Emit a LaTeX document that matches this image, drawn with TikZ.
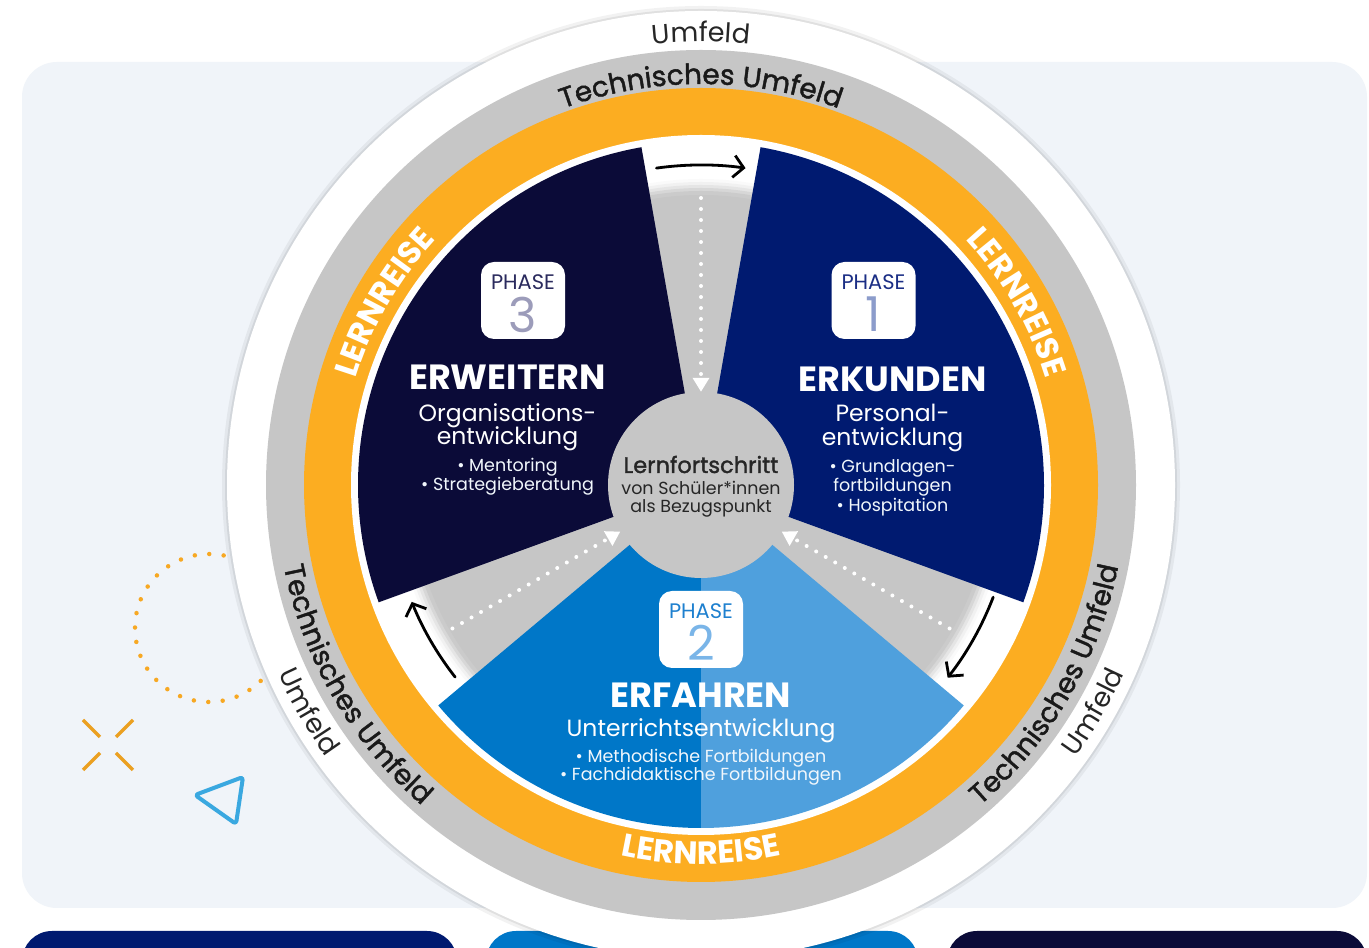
\documentclass[tikz,border=0pt]{standalone}
\usepackage{fontspec}
\setmainfont{Poppins}
\newfontfamily\mediumfamily[FakeBold=1.5]{Poppins}
\usetikzlibrary{arrows.meta,decorations.text,positioning}
\definecolor{navyone}{HTML}{001A70}
\definecolor{navythree}{HTML}{0B0B38}
\definecolor{bluetwo}{HTML}{0077C8}
\definecolor{skytwo}{HTML}{4FA0DD}
\definecolor{lernorange}{HTML}{FCAD21}
\definecolor{ringgray}{HTML}{C6C6C6}
\definecolor{panelbg}{HTML}{F0F4F9}
\definecolor{dotorange}{HTML}{F7A823}
\definecolor{triblue}{HTML}{3AA8E0}
\definecolor{wordone}{HTML}{1B2E85}
\definecolor{digitone}{HTML}{8C9CCB}
\definecolor{wordtwo}{HTML}{1E80CF}
\definecolor{digittwo}{HTML}{7AB5E8}
\definecolor{wordthree}{HTML}{2B2B5E}
\definecolor{digitthree}{HTML}{9C9CBA}
\newcommand\headfont{\fontsize{35pt}{37pt}\selectfont\bfseries}
\newcommand\subfont{\fontsize{23.5pt}{25pt}\selectfont}
\newcommand\itemfont{\fontsize{17.5pt}{19pt}\selectfont}
\newcommand\phasefont{\fontsize{21pt}{22pt}\selectfont}
\newcommand\digitfont{\fontsize{48pt}{50pt}\selectfont}
\newcommand\hubtitlefont{\mediumfamily\fontsize{22.5pt}{24pt}\selectfont}
\newcommand\hubtextfont{\fontsize{17.5pt}{18pt}\selectfont}
\newcommand\techfont{\mediumfamily\fontsize{28pt}{30pt}\selectfont}
\newcommand\umfeldfont{\fontsize{27pt}{28pt}\selectfont}
\newcommand\lernfont{\fontsize{32pt}{33pt}\selectfont\bfseries}

\begin{document}
\begin{tikzpicture}[x=1pt, y=1pt,
  phasebox/.style={fill=white, rounded corners=13pt, minimum width=84pt,
    minimum height=77pt, inner sep=0pt},
  phaseword/.style={font=\phasefont, inner sep=0pt},
  phasedigit/.style={font=\digitfont, inner sep=0pt},
  headline/.style={text=white, font=\headfont, anchor=base, inner sep=0pt},
  subline/.style={text=white, font=\subfont, anchor=base, inner sep=0pt},
  itemline/.style={text=white!92!skytwo, font=\itemfont, anchor=base, inner sep=0pt},
  hubline/.style={text=black!85, anchor=base, inner sep=0pt},
  hub/.style={circle, fill=ringgray, minimum size=186pt, inner sep=0pt},
  flowdots/.style={white, line width=4pt, line cap=round,
    dash pattern=on 0pt off 11pt, -{Triangle[length=14pt, width=16pt]}},
  turn/.style={black, line width=2.8pt, line cap=round,
    -{Straight Barb[length=10pt, width=22pt]}},
  techtext/.style={decorate, decoration={text along path, text align=center,
    text color=black!90, text={|\techfont|#1}}},
  umfeldtext/.style={decorate, decoration={text along path, text align=center,
    text color=black!85, text={|\umfeldfont|#1}}},
  lerntext/.style={decorate, decoration={text along path, text align=center,
    text color=white, text={|\lernfont|#1}}},
]
\clip (0,0) rectangle (1369,948);
\fill[white] (0,0) rectangle (1369,948);

% panel and cards
\fill[panelbg, rounded corners=35pt] (22,40) rectangle (1367,886);
\fill[navyone, rounded corners=30pt] (22,-40) rectangle (457,17);
\fill[bluetwo, rounded corners=30pt] (486,-40) rectangle (918,17);
\fill[navythree, rounded corners=30pt] (947,-40) rectangle (1367,17);

% decorations
\draw[dotorange, line width=4.5pt, line cap=round, dash pattern=on 0pt off 14.5pt]
  (209,320) circle[radius=74pt];
\draw[dotorange!95!black, line width=3.5pt]
  (83,228) -- (100,211) (133,228) -- (116,211)
  (83,178) -- (100,195) (133,178) -- (116,195);
\draw[triblue, line width=4pt, line join=round, rounded corners=3pt]
  (195,153) -- (243,171) -- (236,124) -- cycle;

% outer circle
\fill[black, opacity=0.05] (701,463) circle[radius=479pt];
\fill[black, opacity=0.07] (701,463) circle[radius=476pt];
\fill[white] (701,463) circle[radius=474pt];

\begin{scope}[shift={(701,463)}]
  \fill[ringgray] (0,0) circle[radius=435pt];
  \fill[lernorange] (0,0) circle[radius=397pt];
  \fill[white] (0,0) circle[radius=350pt];
  \foreach \r/\o in {306/0.08, 303/0.16, 300/0.28, 297/0.45, 294/0.65}
    \fill[ringgray, opacity=\o] (0,0) circle[radius=\r pt];
  \fill[ringgray] (0,0) circle[radius=290pt];

  % sectors
  \fill[navyone] (0,0) -- (-20:343pt) arc[start angle=-20, end angle=80, radius=343pt] -- cycle;
  \fill[navythree] (0,0) -- (100:343pt) arc[start angle=100, end angle=200, radius=343pt] -- cycle;
  \fill[bluetwo] (0,0) -- (220:343pt) arc[start angle=220, end angle=270, radius=343pt] -- cycle;
  \fill[skytwo] (0,0) -- (270:343pt) arc[start angle=270, end angle=320, radius=343pt] -- cycle;

  % hub
  \node[hub] (hub) at (0,0) {};
  \node[hubline, font=\hubtitlefont] (hubtitle) at (0,12) {Lernfortschritt};
  \node[hubline, font=\hubtextfont] (hubtexta) at (0,-10) {von Schüler*innen};
  \node[hubline, font=\hubtextfont] (hubtextb) at (0,-28) {als Bezugspunkt};

  % flow into hub
  \coordinate (gapnorth) at (90:287pt);
  \coordinate (gapeast) at (-30:287pt);
  \coordinate (gapwest) at (210:287pt);
  \draw[flowdots] (gapnorth) -- (hub);
  \draw[flowdots] (gapeast) -- (hub);
  \draw[flowdots] (gapwest) -- (hub);

  % cycle arrows
  \coordinate (turnnorth) at (98:320pt);
  \coordinate (turneast) at (-21:313pt);
  \coordinate (turnwest) at (218:312pt);
  \draw[turn] (turnnorth) arc[start angle=98, end angle=82, radius=320pt];
  \draw[turn] (turneast) arc[start angle=-21, end angle=-38, radius=313pt];
  \draw[turn] (turnwest) arc[start angle=218, end angle=202, radius=312pt];

  % phase 1
  \node[phasebox] (boxone) at (172.5,184.5) {};
  \node[phaseword, text=wordone] (wordonelabel) at ([yshift=18pt]boxone.center) {PHASE};
  \node[phasedigit, text=digitone] (digitonelabel) at ([yshift=-14pt]boxone.center) {1};
  \node[headline] (headone) at (191.5,93) {ERKUNDEN};
  \node[subline] (subonea) at (191.5,63) {Personal-};
  \node[subline] (suboneb) at (191.5,39.5) {entwicklung};
  \node[itemline] (itemonea) at (191.5,12) {\textbullet\ Grundlagen-};
  \node[itemline] (itemoneb) at (191.5,-7) {fortbildungen};
  \node[itemline] (itemonec) at (191.5,-27) {\textbullet\ Hospitation};

  % phase 2
  \node[phasebox] (boxtwo) at (0,-144.5) {};
  \node[phaseword, text=wordtwo] (wordtwolabel) at ([yshift=18pt]boxtwo.center) {PHASE};
  \node[phasedigit, text=digittwo] (digittwolabel) at ([yshift=-13pt]boxtwo.center) {2};
  \node[headline] (headtwo) at (0,-223) {ERFAHREN};
  \node[subline] (subtwo) at (0,-252) {Unterrichtsentwicklung};
  \node[itemline] (itemtwoa) at (0,-278) {\textbullet\ Methodische Fortbildungen};
  \node[itemline] (itemtwob) at (0,-296) {\textbullet\ Fachdidaktische Fortbildungen};

  % phase 3
  \node[phasebox] (boxthree) at (-178,184.5) {};
  \node[phaseword, text=wordthree] (wordthreelabel) at ([yshift=18pt]boxthree.center) {PHASE};
  \node[phasedigit, text=digitthree] (digitthreelabel) at ([yshift=-14pt]boxthree.center) {3};
  \node[headline] (headthree) at (-193.5,95) {ERWEITERN};
  \node[subline] (subthreea) at (-193.5,63.5) {Organisations-};
  \node[subline] (subthreeb) at (-193.5,40) {entwicklung};
  \node[itemline] (itemthreea) at (-193.5,13) {\textbullet\ Mentoring};
  \node[itemline] (itemthreeb) at (-193.5,-6) {\textbullet\ Strategieberatung};

  % ring labels
  \path[lerntext=LERNREISE] (180:361pt) arc[start angle=180, end angle=120, radius=361pt];
  \path[lerntext=LERNREISE] (60:361pt) arc[start angle=60, end angle=0, radius=361pt];
  \path[lerntext=LERNREISE] (240:379pt) arc[start angle=240, end angle=300, radius=379pt];
  \path[techtext=Technisches Umfeld] (140:401pt) arc[start angle=140, end angle=40, radius=401pt];
  \path[techtext=Technisches Umfeld] (160:425pt) arc[start angle=160, end angle=260, radius=425pt];
  \path[techtext=Technisches Umfeld] (280:425pt) arc[start angle=280, end angle=380, radius=425pt];
  \path[umfeldtext=Umfeld] (120:443pt) arc[start angle=120, end angle=60, radius=443pt];
  \path[umfeldtext=Umfeld] (180:463pt) arc[start angle=180, end angle=240, radius=463pt];
  \path[umfeldtext=Umfeld] (300:463pt) arc[start angle=300, end angle=360, radius=463pt];
\end{scope}
\end{tikzpicture}
\end{document}
